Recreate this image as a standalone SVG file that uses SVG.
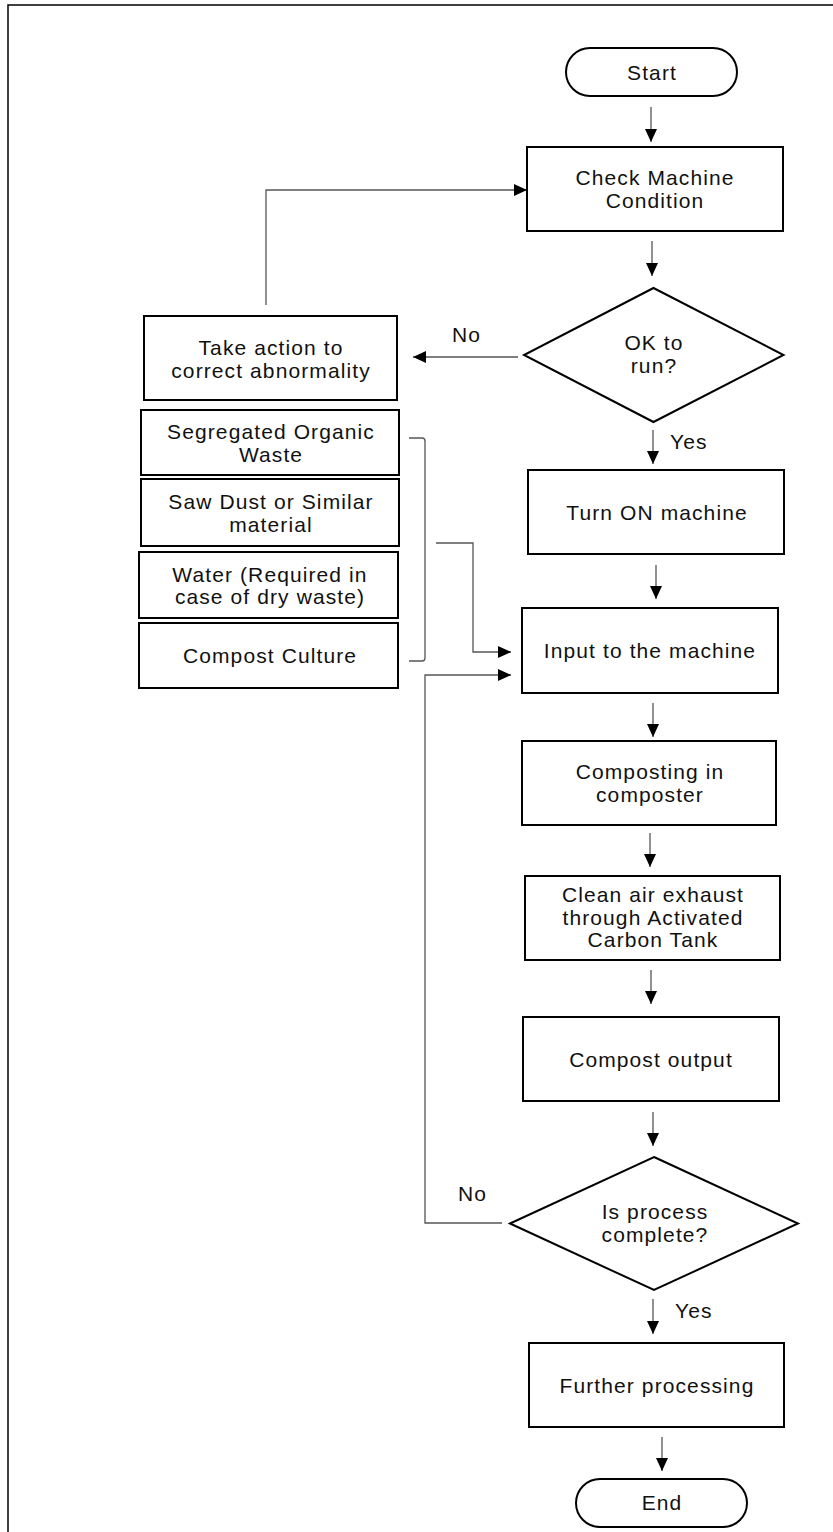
<svg xmlns="http://www.w3.org/2000/svg" width="833" height="1532" viewBox="0 0 833 1532">
<style>
.box{fill:#fff;stroke:#000;stroke-width:2}
.t{font-family:"Liberation Sans",Arial,sans-serif;font-size:21px;letter-spacing:1.1px;fill:#111;text-anchor:middle}
.lbl{font-family:"Liberation Sans",Arial,sans-serif;font-size:21px;letter-spacing:1.1px;fill:#111}
.c{fill:none;stroke:#555;stroke-width:1.3}
</style>
<defs>
<marker id="ah" markerUnits="userSpaceOnUse" markerWidth="13" markerHeight="13" viewBox="0 0 13 13" refX="13" refY="6.5" orient="auto">
<path d="M0,0.5 L13,6.5 L0,12.5 Z" fill="#000"/>
</marker>
</defs>
<rect width="833" height="1532" fill="#fff"/>
<path d="M8,1532 L8,5 L833,5" fill="none" stroke="#000" stroke-width="1.5"/>

<g id="connectors">
<path class="c" d="M651,107 L651,142" marker-end="url(#ah)"/>
<path class="c" d="M652,241 L652,276" marker-end="url(#ah)"/>
<path class="c" d="M518,357 L413,357" marker-end="url(#ah)"/>
<path class="c" d="M266,305 L266,190 L527,190" marker-end="url(#ah)"/>
<path class="c" d="M653,430 L653,464" marker-end="url(#ah)"/>
<path class="c" d="M656,565 L656,599" marker-end="url(#ah)"/>
<path class="c" d="M409,438 L422,438 Q425,438 425,441 L425,658 Q425,661 422,661 L409,661"/>
<path class="c" d="M436,543 L473,543 L473,652 L511,652" marker-end="url(#ah)"/>
<path class="c" d="M502,1223 L425,1223 L425,675 L511,675" marker-end="url(#ah)"/>
<path class="c" d="M653,703 L653,737" marker-end="url(#ah)"/>
<path class="c" d="M650,833 L650,867" marker-end="url(#ah)"/>
<path class="c" d="M651,970 L651,1004" marker-end="url(#ah)"/>
<path class="c" d="M653,1112 L653,1146" marker-end="url(#ah)"/>
<path class="c" d="M653,1299 L653,1334" marker-end="url(#ah)"/>
<path class="c" d="M662,1437 L662,1471" marker-end="url(#ah)"/>
<text class="lbl" x="452" y="342">No</text>
<text class="lbl" x="670" y="449">Yes</text>
<text class="lbl" x="458" y="1201">No</text>
<text class="lbl" x="675" y="1318">Yes</text>
</g>

<g id="start">
<rect class="box" x="566" y="48" width="171" height="48" rx="24"/>
<text class="t" x="652" y="80">Start</text>
</g>
<g id="check">
<rect class="box" x="527" y="147" width="256" height="84"/>
<text class="t" x="655" y="185">Check Machine</text>
<text class="t" x="655" y="208">Condition</text>
</g>
<g id="ok">
<polygon class="box" points="653.5,288 783.5,355 653.5,422 524,355"/>
<text class="t" x="654" y="350">OK to</text>
<text class="t" x="654" y="373">run?</text>
</g>
<g id="action">
<rect class="box" x="144" y="316" width="253" height="84"/>
<text class="t" x="271" y="355">Take action to</text>
<text class="t" x="271" y="378">correct abnormality</text>
</g>
<g id="organic">
<rect class="box" x="141" y="410" width="258" height="65"/>
<text class="t" x="271" y="439">Segregated Organic</text>
<text class="t" x="271" y="462">Waste</text>
</g>
<g id="sawdust">
<rect class="box" x="141" y="479" width="258" height="67"/>
<text class="t" x="271" y="509">Saw Dust or Similar</text>
<text class="t" x="271" y="532">material</text>
</g>
<g id="water">
<rect class="box" x="139" y="552" width="259" height="66"/>
<text class="t" x="270" y="582">Water (Required in</text>
<text class="t" x="270" y="604">case of dry waste)</text>
</g>
<g id="culture">
<rect class="box" x="139" y="623" width="259" height="65"/>
<text class="t" x="270" y="663">Compost Culture</text>
</g>
<g id="turnon">
<rect class="box" x="528" y="470" width="256" height="84"/>
<text class="t" x="657" y="520">Turn ON machine</text>
</g>
<g id="input">
<rect class="box" x="522" y="608" width="256" height="85"/>
<text class="t" x="650" y="658">Input to the machine</text>
</g>
<g id="composting">
<rect class="box" x="522" y="741" width="254" height="84"/>
<text class="t" x="650" y="779">Composting in</text>
<text class="t" x="650" y="802">composter</text>
</g>
<g id="cleanair">
<rect class="box" x="525" y="876" width="255" height="84"/>
<text class="t" x="653" y="902">Clean air exhaust</text>
<text class="t" x="653" y="925">through Activated</text>
<text class="t" x="653" y="947">Carbon Tank</text>
</g>
<g id="output">
<rect class="box" x="523" y="1017" width="256" height="84"/>
<text class="t" x="651" y="1067">Compost output</text>
</g>
<g id="complete">
<polygon class="box" points="654,1157 798,1223.5 654,1290 510,1223.5"/>
<text class="t" x="655" y="1219">Is process</text>
<text class="t" x="655" y="1242">complete?</text>
</g>
<g id="further">
<rect class="box" x="529" y="1343" width="255" height="84"/>
<text class="t" x="657" y="1393">Further processing</text>
</g>
<g id="end">
<rect class="box" x="576" y="1479" width="171" height="48" rx="24"/>
<text class="t" x="662" y="1510">End</text>
</g>
</svg>
